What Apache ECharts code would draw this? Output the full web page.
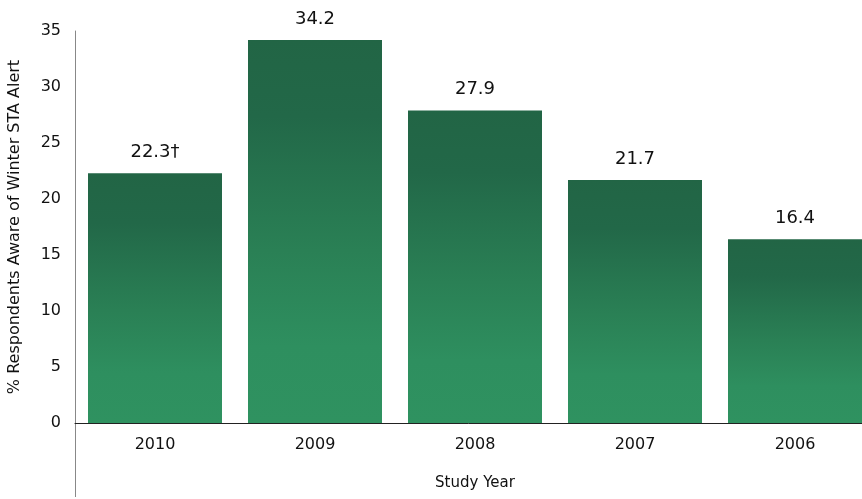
<!DOCTYPE html>
<html><head><meta charset="utf-8">
<script src="https://cdn.jsdelivr.net/npm/echarts@6/dist/echarts.min.js"></script>
<style>html,body{margin:0;padding:0;background:#fff}#c{width:862px;height:499px}</style>
</head><body><div id="c"></div>
<script>
const categories = ['2010', '2009', '2008', '2007', '2006'];
const values = [22.3, 34.2, 27.9, 21.7, 16.4];
const valueLabels = ['22.3†', '34.2', '27.9', '21.7', '16.4'];
const yTicks = [0, 5, 10, 15, 20, 25, 30, 35];

const chart = echarts.init(document.getElementById('c'), null, {renderer: 'canvas'});
const font = 'DejaVu Sans';
chart.setOption({
  animation: false,
  grid: {left: 75, top: 31, width: 800, bottom: 76, containLabel: false, outerBoundsMode: 'none'},
  xAxis: {
    type: 'category', data: categories,
    axisLine: {lineStyle: {color: '#222', width: 1}},
    axisTick: {show: false},
    axisLabel: {color: '#111', fontFamily: font, fontSize: 16, margin: 14},
    name: 'Study Year', nameLocation: 'middle', nameGap: 53,
    nameTextStyle: {color: '#111', fontFamily: font, fontSize: 15}
  },
  yAxis: {
    type: 'value', min: yTicks[0], max: yTicks[yTicks.length - 1], interval: 5,
    splitLine: {show: false},
    axisLine: {show: true, lineStyle: {color: '#888', width: 1}},
    axisTick: {show: false},
    axisLabel: {color: '#111', fontFamily: font, fontSize: 16, margin: 14},
    name: '% Respondents Aware of Winter STA Alert', nameLocation: 'middle', nameGap: 52,
    nameRotate: 90,
    nameTextStyle: {color: '#111', fontFamily: font, fontSize: 16}
  },
  series: [{
    type: 'bar', data: values, barCategoryGap: '16.25%',
    itemStyle: {
      color: new echarts.graphic.LinearGradient(0, 0, 0, 1, [
        {offset: 0, color: '#226545'},
        {offset: 0.2, color: '#226848'},
        {offset: 0.55, color: '#2a8055'},
        {offset: 0.8, color: '#2e8f5f'},
        {offset: 1, color: '#2f9260'}
      ])
    },
    label: {
      show: true, position: 'top', distance: 12,
      color: '#111', fontFamily: font, fontSize: 18,
      formatter: p => valueLabels[p.dataIndex]
    }
  }],
  graphic: [{
    type: 'line', shape: {x1: 75.5, y1: 423, x2: 75.5, y2: 497},
    style: {stroke: '#888', lineWidth: 1}
  }]
});
</script></body></html>
